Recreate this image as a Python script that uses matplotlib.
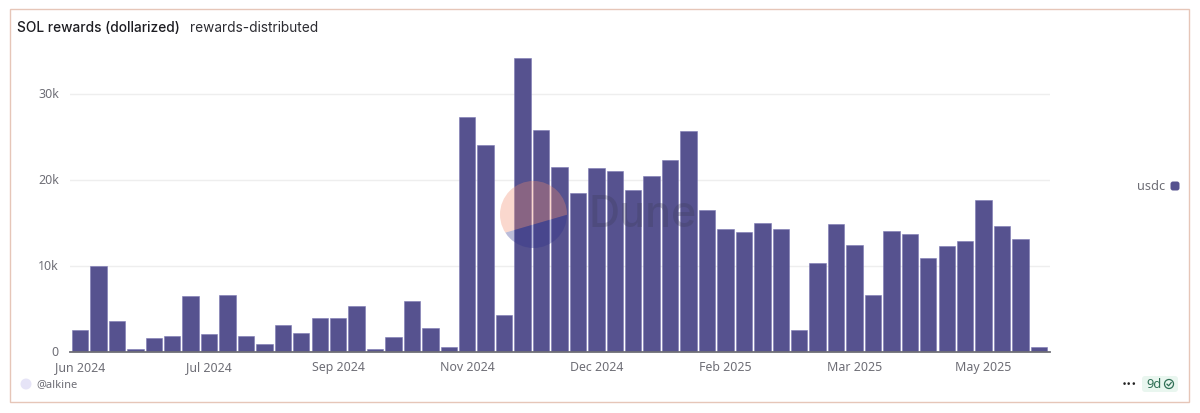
import matplotlib
matplotlib.use('Agg')
import matplotlib.pyplot as plt
from matplotlib.patches import Circle, FancyBboxPatch, Polygon, Rectangle
from matplotlib.transforms import ScaledTranslation

# weekly usdc rewards
usdc = [2500, 10000, 3600, 350, 1600, 1900, 6500, 2100, 6600, 1850,
        950, 3100, 2200, 3950, 4000, 5350, 400, 1750, 5900, 2750,
        600, 27300, 24100, 4300, 34200, 25800, 21500, 18500, 21400, 21000,
        18800, 20400, 22300, 25700, 16500, 14300, 14000, 15000, 14300, 2500,
        10400, 14900, 12400, 6600, 14100, 13700, 10900, 12300, 12900, 17700,
        14700, 13100, 550]
x_labels = ['Jun 2024', 'Jul 2024', 'Sep 2024', 'Nov 2024', 'Dec 2024', 'Feb 2025', 'Mar 2025', 'May 2025']
y_ticks = [0, 10000, 20000, 30000]
y_labels = ['0', '10k', '20k', '30k']

bar_color = '#56528f'
text_grey = '#6e6e76'
W, H = 1200, 414

plt.rcParams['font.family'] = ['Inter', 'DejaVu Sans']

fig = plt.figure(figsize=(W / 100, H / 100), dpi=100, facecolor='white')
ax = fig.add_axes([70 / W, 1 - 353 / H, 980 / W, 308 / H])

ax.bar(range(len(usdc)), usdc, width=0.89, color=bar_color, edgecolor='#7d79b4', linewidth=0.4, zorder=3)
ax.set_xlim(-0.542, 52.6)
ax.set_ylim(0, 35800)

ax.set_xticks(range(0, len(usdc), 7))
ax.set_xticklabels(x_labels, fontsize=8.9, color=text_grey, family=['Noto Sans', 'DejaVu Sans'])
ax.set_yticks(y_ticks)
ax.set_yticklabels(y_labels, fontsize=8.9, color=text_grey, family=['Noto Sans', 'DejaVu Sans'])
ax.tick_params(axis='both', length=0)
ax.tick_params(axis='x', pad=6)
ax.tick_params(axis='y', pad=8)
# the y labels sit a little above their grid lines
nudge = ScaledTranslation(0, 1.5 / 100, fig.dpi_scale_trans)
for label in ax.get_yticklabels():
    label.set_transform(label.get_transform() + nudge)

ax.grid(axis='y', color='#eeeeee', linewidth=1, zorder=0)
ax.set_axisbelow(True)
for side in ['top', 'right', 'left']:
    ax.spines[side].set_visible(False)
ax.spines['bottom'].set_color('#6e6e76')
ax.spines['bottom'].set_linewidth(1.3)
ax.spines['bottom'].set_zorder(4)

# card frame, header, legend and footer in pixel coordinates
over = fig.add_axes([0, 0, 1, 1], zorder=5)
over.set_xlim(0, W)
over.set_ylim(H, 0)
over.axis('off')
over.patch.set_alpha(0)

over.add_patch(Rectangle((10, 10), 1179, 393, fill=False, edgecolor='#e6c6b8', linewidth=1))

over.text(17, 27.5, 'SOL rewards (dollarized)', fontsize=9.9, fontweight='medium', color='#1d1d22', va='center')
over.text(190, 27.5, 'rewards-distributed', fontsize=9.85, color='#2c2c32', va='center')

# Dune watermark, pink above the chord and blue below
upper = Polygon([(480, 241), (580, 212), (580, 170), (480, 170)], facecolor='#f08a6c', alpha=0.33, edgecolor='none')
over.add_patch(upper)
upper.set_clip_path(Circle((533.5, 215.5), 33.5, transform=over.transData))
lower = Polygon([(480, 241), (580, 212), (580, 260), (480, 260)], facecolor='#2b2f8a', alpha=0.32, edgecolor='none')
over.add_patch(lower)
lower.set_clip_path(Circle((533.5, 215.5), 33.5, transform=over.transData))
over.text(588, 216, 'Dune', fontsize=31, fontweight='medium', color='#3a3a55', alpha=0.28, va='center')

# legend
over.text(1165, 187, 'usdc', fontsize=9.2, color=text_grey, ha='right', va='center', family=['Noto Sans', 'DejaVu Sans'])
over.add_patch(FancyBboxPatch((1172, 184), 6, 6, boxstyle='round,pad=1.5,rounding_size=2.5',
                              facecolor=bar_color, edgecolor='none'))

# footer
over.add_patch(Circle((26, 385), 5.5, facecolor='#e6e4f7', edgecolor='none'))
over.text(36, 385, '@alkine', fontsize=8, color=text_grey, va='center', family=['Noto Sans', 'DejaVu Sans'])
over.text(1129, 385, '\u00b7\u00b7\u00b7', fontsize=11, fontweight='bold', color='#222222', ha='center', va='center')
over.add_patch(FancyBboxPatch((1144, 379), 32, 12, boxstyle='round,pad=2,rounding_size=3',
                              facecolor='#e9f6ef', edgecolor='none'))
over.text(1146, 385, '9d', fontsize=9.2, color='#2f6f55', va='center', family=['Noto Sans', 'DejaVu Sans'])
over.add_patch(Circle((1169, 385), 4.5, fill=False, edgecolor='#2f6f55', linewidth=0.9))
over.plot([1167, 1168.6, 1171.2], [385.2, 386.8, 383.6], color='#2f6f55', linewidth=0.9)

fig.savefig('out.png', dpi=100)
